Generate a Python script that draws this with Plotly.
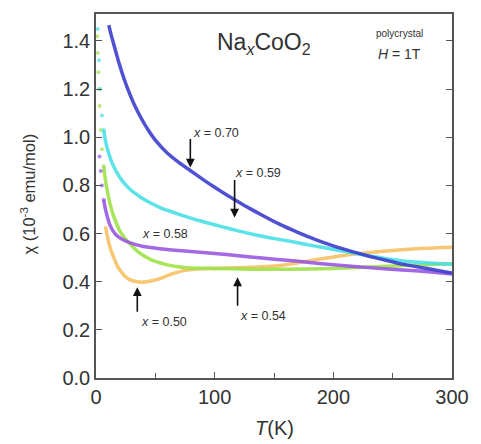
import plotly.graph_objects as go

# x = 0.70 (blue)
T70 = [10.8, 12, 15, 19, 24, 28, 32, 38, 44, 50, 60, 70, 80, 90, 100, 113, 125, 140, 155, 169, 185, 200, 216, 230, 245, 258, 275, 290, 300]
C70 = [1.466, 1.44, 1.385, 1.315, 1.238, 1.185, 1.138, 1.08, 1.03, 0.988, 0.935, 0.895, 0.86, 0.825, 0.792, 0.752, 0.717, 0.676, 0.638, 0.607, 0.575, 0.549, 0.525, 0.506, 0.488, 0.473, 0.458, 0.445, 0.436]

# x = 0.59 (cyan)
T59 = [1.5, 2.5, 3.5, 5, 6.5, 8, 10, 13, 17, 22, 28, 38, 46, 55, 61, 70, 78, 86, 95, 105, 119, 133, 145, 161, 175, 190, 205, 216, 230, 245, 258, 280, 300]
C59 = [1.45, 1.32, 1.2, 1.09, 1.03, 0.985, 0.945, 0.9, 0.858, 0.82, 0.787, 0.75, 0.727, 0.706, 0.695, 0.68, 0.667, 0.655, 0.643, 0.63, 0.612, 0.596, 0.584, 0.57, 0.557, 0.543, 0.53, 0.52, 0.508, 0.495, 0.486, 0.478, 0.472]

# x = 0.58 (purple)
T58 = [3, 4, 5, 6.5, 8, 10.8, 13, 16, 19, 24, 32, 40, 52, 64, 80, 100, 120, 140, 161, 180, 200, 220, 240, 258, 280, 300]
C58 = [0.92, 0.86, 0.8, 0.74, 0.7, 0.648, 0.622, 0.6, 0.586, 0.571, 0.556, 0.546, 0.538, 0.532, 0.525, 0.517, 0.508, 0.498, 0.489, 0.48, 0.47, 0.462, 0.455, 0.449, 0.441, 0.432]

# x = 0.54 (green)
T54 = [1, 1.5, 2, 2.5, 3, 4, 5, 6.5, 8, 10, 12, 14, 17, 20, 24, 28, 33, 38, 45, 52, 60, 69, 80, 100, 130, 160, 200, 250, 300]
C54 = [1.42, 1.35, 1.27, 1.2, 1.13, 1.03, 0.95, 0.88, 0.82, 0.765, 0.72, 0.685, 0.645, 0.612, 0.583, 0.56, 0.535, 0.515, 0.495, 0.481, 0.47, 0.462, 0.457, 0.455, 0.452, 0.452, 0.455, 0.465, 0.475]

# x = 0.50 (orange)
T50 = [8, 9.5, 12, 15, 18, 21.5, 25, 30, 35, 38, 43, 49, 55, 60, 67, 74, 83, 100, 120, 150, 170, 190, 210, 229, 250, 270, 300]
C50 = [0.63, 0.59, 0.54, 0.5, 0.465, 0.44, 0.42, 0.405, 0.4, 0.398, 0.4, 0.406, 0.415, 0.425, 0.437, 0.446, 0.452, 0.455, 0.458, 0.465, 0.478, 0.495, 0.51, 0.52, 0.53, 0.537, 0.543]

# sparse low-temperature points are drawn as dots, the rest as dense lines
SPARSE_BELOW = 7

series = [
    (T50, C50, "#f7c266"),
    (T54, C54, "#9fe34a"),
    (T58, C58, "#9a58e0"),
    (T59, C59, "#4ae0e6"),
    (T70, C70, "#3e3ecf"),
]

fig = go.Figure()
for T, C, col in series:
    lo = [i for i, t in enumerate(T) if t < SPARSE_BELOW]
    hi = [i for i, t in enumerate(T) if t >= SPARSE_BELOW - 1.5]
    if lo:
        fig.add_trace(go.Scatter(x=[T[i] for i in lo], y=[C[i] for i in lo], mode="markers",
                                 marker=dict(color=col, size=4), opacity=0.7))
    fig.add_trace(go.Scatter(x=[T[i] for i in hi], y=[C[i] for i in hi], mode="lines",
                             line=dict(color=col, width=3.5, shape="spline", smoothing=0.5),
                             opacity=0.9))

FONT = "Liberation Sans, Arial, sans-serif"
TXT = "#333333"

ann = []
def label(text, x, y, size=12):
    ann.append(dict(x=x, y=y, xref="x", yref="y", text=text, showarrow=False,
                    xanchor="center", yanchor="middle",
                    font=dict(size=size, color=TXT, family=FONT)))

def arrow(x, y, ay):
    ann.append(dict(x=x, y=y, xref="x", yref="y", text="", showarrow=True,
                    ax=0, ay=ay, arrowhead=2, arrowsize=1.1, arrowwidth=1.6,
                    arrowcolor="#111111"))

label("Na<sub><i>x</i></sub>CoO<sub>2</sub>", 141.7, 1.39, 23)
label("polycrystal", 256, 1.433, 10)
label("<i>H</i> = 1T", 256, 1.346, 14)
label("<i>x</i> = 0.70", 101, 1.019, 12.5)
label("<i>x</i> = 0.59", 136.7, 0.853, 12.5)
label("<i>x</i> = 0.58", 58, 0.60, 12.5)
label("<i>x</i> = 0.50", 57, 0.232, 12.5)
label("<i>x</i> = 0.54", 141, 0.257, 12.5)
arrow(79.5, 0.874, -30)
arrow(116.8, 0.667, -39)
arrow(34.8, 0.377, 26)
arrow(119.3, 0.418, 30)

ann.append(dict(x=-0.19, y=0.505, xref="paper", yref="paper", textangle=-90,
                xanchor="center", yanchor="middle",
                text="χ (10<sup>-3</sup>&nbsp;emu/mol)", showarrow=False,
                font=dict(size=16.5, color=TXT, family=FONT)))
ann.append(dict(x=0.5, y=-0.137, xref="paper", yref="paper",
                xanchor="center", yanchor="middle",
                text="<i>T</i>(K)", showarrow=False,
                font=dict(size=20, color=TXT, family=FONT)))

fig.update_layout(
    width=481, height=444,
    margin=dict(l=96, r=23, t=13, b=66),
    paper_bgcolor="white", plot_bgcolor="white",
    showlegend=False,
    annotations=ann,
    font=dict(family=FONT, color=TXT),
)
fig.update_xaxes(range=[0, 300], tickvals=[0, 100, 200, 300], ticks="inside", ticklen=6,
                 tickwidth=1.3, tickcolor="#555", showline=True, linecolor="#555", linewidth=1.5,
                 mirror=True, showgrid=False, zeroline=False,
                 tickfont=dict(size=20, color=TXT, family=FONT),
                 minor=dict(tickvals=[50, 150, 250], ticks="inside", ticklen=5, tickcolor="#555"))
fig.update_yaxes(range=[0, 1.512], tickvals=[0, 0.2, 0.4, 0.6, 0.8, 1.0, 1.2, 1.4],
                 ticktext=["0.0", "0.2", "0.4", "0.6", "0.8", "1.0", "1.2", "1.4"],
                 ticks="inside", ticklen=6, tickwidth=1.3, tickcolor="#555",
                 showline=True, linecolor="#555", linewidth=1.5, mirror="ticks",
                 showgrid=False, zeroline=False,
                 tickfont=dict(size=20, color=TXT, family=FONT))

fig.write_html("out.html")
